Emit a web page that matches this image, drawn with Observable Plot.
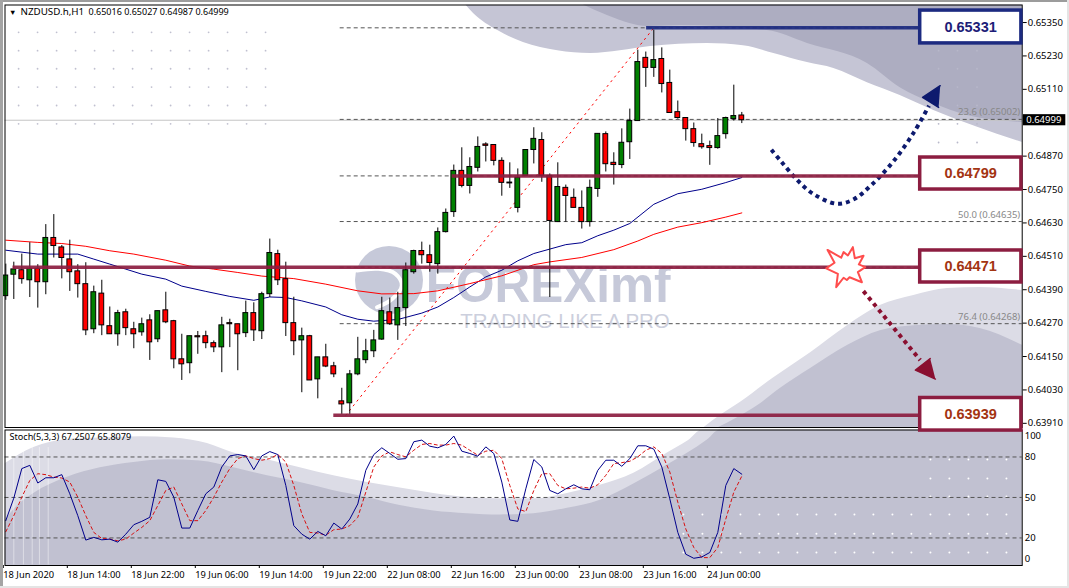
<!DOCTYPE html>
<html><head><meta charset="utf-8">
<script src="https://cdn.jsdelivr.net/npm/d3@7"></script>
<script src="https://cdn.jsdelivr.net/npm/@observablehq/plot@0.6"></script>
<style>
html,body{margin:0;padding:0;background:#fff;width:1069px;height:588px;overflow:hidden}
#top,#sub{position:absolute;left:0}
#top{top:0;z-index:2}
#sub{top:426px;z-index:1}
svg{background:transparent!important;overflow:visible}
.edge{position:absolute;z-index:3}
</style></head><body>
<div class="edge" style="left:0;top:0;width:1069px;height:2px;background:#9c9c9c"></div>
<div class="edge" style="left:0;top:0;width:3px;height:588px;background:#a4a4a4"></div>
<div class="edge" style="left:1067px;top:0;width:2px;height:588px;background:#e4e4e4"></div>
<div class="edge" style="left:0;top:586px;width:1069px;height:2px;background:#e4e4e4"></div>
<div id="top"></div><div id="sub"></div>
<script>
// all prices are in points (1e-5)
const candleOpen=[64367,64444,64460,64424,64465,64417,64576,64542,64499,64456,64410,64248,64376,64259,64230,64309,64248,64237,64280,64212,64316,64277,64140,64126,64223,64223,64198,64183,64270,64266,64234,64306,64241,64374,64518,64428,64270,64208,64223,64068,64147,64115,63989,63982,64086,64137,64169,64211,64309,64262,64324,64453,64529,64514,64482,64597,64669,64817,64763,64828,64912,64910,64853,64775,64684,64799,64892,64928,64799,64633,64756,64720,64684,64633,64752,64949,64846,64838,64920,64996,65223,65187,65219,65133,65028,65007,64967,64913,64906,64899,64949,65003,65016];
const candleHigh=[64482,64489,64518,64559,64480,64624,64660,64549,64568,64480,64487,64403,64424,64328,64316,64320,64273,64288,64300,64313,64381,64280,64230,64223,64240,64241,64206,64291,64284,64266,64349,64343,64381,64572,64532,64489,64363,64252,64226,64147,64194,64129,64036,64100,64219,64212,64244,64363,64360,64381,64486,64532,64561,64550,64612,64680,64838,64900,64864,64939,64918,64910,64864,64846,64824,64892,64972,64954,64806,64846,64766,64752,64745,64784,64950,64957,64882,64968,65039,65251,65244,65323,65259,65179,65068,65007,64989,64949,64924,65005,65010,65125,65027];
const candleLow=[64352,64355,64410,64362,64324,64372,64504,64429,64384,64360,64225,64232,64225,64230,64187,64225,64178,64223,64136,64200,64268,64106,64064,64088,64158,64178,64164,64092,64182,64099,64218,64204,64211,64362,64405,64222,64153,64020,64064,63998,64110,64074,63942,63942,64081,64124,64146,64208,64262,64208,64258,64446,64482,64453,64446,64594,64650,64756,64734,64813,64849,64835,64726,64754,64666,64799,64842,64776,64362,64633,64633,64684,64608,64615,64722,64813,64766,64825,64858,64996,65117,65153,65097,65025,65003,64924,64902,64895,64837,64895,64931,64996,64987];
const candleClose=[64441,64463,64428,64465,64417,64576,64547,64504,64453,64410,64244,64381,64262,64230,64306,64252,64230,64266,64201,64313,64273,64140,64122,64223,64219,64198,64183,64262,64266,64230,64306,64244,64374,64522,64424,64270,64205,64223,64064,64147,64114,64086,63978,64086,64140,64169,64208,64313,64266,64324,64460,64529,64514,64486,64597,64666,64817,64763,64831,64903,64907,64853,64774,64772,64792,64892,64932,64799,64637,64759,64727,64684,64633,64756,64950,64841,64838,64918,64996,65208,65187,65215,65129,65025,65007,64967,64917,64902,64899,64942,65007,65014,64999];

const blueMaIdx=[0,4,9,11,13,15,17,20,22,25,28,31,33,35,37,40,42,44,46,49,52,54,56,58,60,62,64,66,68,70,72,74,76,78,81,84,87,90,92];
const blueMa=[64532,64518,64518,64500,64482,64464,64446,64428,64403,64384,64366,64352,64364,64362,64350,64328,64300,64284,64277,64283,64306,64328,64362,64400,64436,64460,64494,64520,64536,64552,64559,64584,64604,64628,64697,64735,64751,64775,64793];
const redMaIdx=[0,4,7,10,13,16,20,23,26,29,32,36,40,44,47,51,54,58,62,66,68,72,76,79,81,84,87,90,92];
const redMa=[64568,64560,64556,64546,64530,64518,64496,64475,64464,64452,64439,64430,64410,64386,64375,64376,64386,64412,64440,64480,64490,64506,64534,64565,64589,64615,64631,64651,64666];

const stochMain=[32.8,49.5,71.4,73.8,60.7,64.6,64.6,66.9,52.7,36.5,18.4,20.4,18.6,19.1,16.9,22.8,29.8,32.3,35.3,63.1,61.9,50.2,27.3,27.3,40.3,52.7,57.7,72.6,80.8,81.8,80.8,70.6,80.8,84,81.8,58.9,29.1,22.8,19.1,24.8,21.6,31,26.6,34,45.2,70.1,81.8,86.8,82.6,78.3,78.8,91.3,92.5,88,86.8,89.3,95.5,84.3,82.6,80.6,87.5,82.6,61.4,33.3,32.3,56.4,78.1,72.6,55.2,52.7,56.4,59.4,56.4,55.7,70.1,77.6,77.6,73.1,78.8,88.3,88.3,85.8,72.6,49,24.1,7.9,4.9,5.9,9.2,24.1,58.9,71.4,67.25];
const stochSignal=[24.6,36.5,50.2,62.6,67.6,66.9,65.1,64.4,61.4,50.2,36.5,24.1,19.6,19.1,17.9,19.1,23.6,27.8,32.8,44,55.2,57.7,45.2,32.8,32.8,40.3,50.2,61.4,71.4,78.8,80.8,78.8,77.6,78.8,81.8,76.3,58.9,37.8,24.1,23.6,22.1,26.1,26.6,29.1,35.3,53.9,72.6,80.8,83.8,81.8,80.1,85,89.3,90,88.8,88.8,90,88.8,85,81.3,84.3,85,78.8,58.9,41.5,39.5,55.2,67.6,67.6,58.9,56.4,56.9,57.7,56.9,59.4,66.4,75.1,75.8,76.8,80.1,85,87.5,82.6,68.9,46.5,26.6,12.9,5.4,5.4,12.9,34,53.9,65.81];

const priceTicks=[65350,65230,65110,64870,64750,64630,64510,64390,64270,64150,64030,63910];
const timeTicks=[0,8,16,24,32,40,48,56,64,72,80,88];
const timeLabels=["18 Jun 2020","18 Jun 14:00","18 Jun 22:00","19 Jun 06:00","19 Jun 14:00","19 Jun 22:00","22 Jun 08:00","22 Jun 16:00","23 Jun 00:00","23 Jun 08:00","23 Jun 16:00","24 Jun 00:00"];

const fibLevels=[65331,65002,64799,64635,64471,64268];
const fibNames=["23.6 (0.65002)","50.0 (0.64635)","76.4 (0.64268)"];
const fibNamed=[65002,64635,64268];
const fibTrendIdx=[42.5,81], fibTrendPrice=[63939,65331];

const levelPrice=[65331,64799,64471,63939];
const levelFrom=[80.1,55.8,0.9,41];
const levelText=["0.65331","0.64799","0.64471","0.63939"];
const levelColor=["#1c2a80","#8c1d40","#8c1d40","#8c1d40"];
const levelInk=["#1d1d78","#a33412","#a33412","#a33412"];
const boxTop=[65393,64865,64531,64001], boxBottom=[65275,64750,64416,63884];
const boxFrom=114.3, boxTo=126.95;

// forecast arrows
const upPathIdx=[95.7,97,98.9,101,103.9,106,108.3,111,113.5,115.4];
const upPathPrice=[64893,64848,64785,64733,64699,64715,64769,64853,64955,65051];
const upHeadIdx=[116.8,114.6,116.6], upHeadPrice=[65123,65081,65045];
const downPathIdx=[107.2,114.3], downPathPrice=[64385,64137];
const downHeadIdx=[115.55,113.7,116.2], downHeadPrice=[64143,64101,64069];
const burstIdx=[102.72,104.43,104.72,105.26,105.88,106.13,107.22,106.63,107.43,106.51,107.01,105.47,105.13,104.72,103.8,104.01,102.55,103.59];
const burstPrice=[64533,64505,64525,64513,64543,64503,64512,64481,64471,64453,64417,64435,64425,64433,64399,64447,64467,64487];

// watermark shapes
const capLightIdx=[57.5,58.5,61.5,64.7,69,73.1,76.8,80.6,87.7,92.2,96,100.2,103.5,107.7,111.8,116,127.1];
const capLight=[65413,65382,65321,65278,65249,65239,65249,65264,65275,65267,65239,65206,65185,65134,65088,65034,64919];
const capDarkIdx=[72.2,75.2,78.1,80.2,84.3,95.2,100.2,107.7,111.8,116,120.2,127.1];
const capDark=[65413,65375,65346,65336,65339,65321,65275,65203,65116,65059,65016,64991];
const hillLightIdx=[87.3,89.3,91.8,96,100.6,105.2,109.3,113.5,117.7,121.8,127.1];
const hillLight=[63895,63938,63985,64074,64164,64261,64333,64369,64394,64398,64387];
const hillDarkIdx=[89.1,91.5,94,96.8,100.6,105.2,109.3,113.5,117.7,121.8,127.1];
const hillDark=[63895,63931,63974,64035,64107,64190,64243,64261,64265,64251,64190];
const subLightIdx=[-0.1,3.5,7.7,11.8,16.8,21,25.2,28.5,32.7,36.8,41,45.2,49.3,53.5,57.7,61.8,66,70.2,74.3,78.5,82.7,85.3,87.1,127.1];
const subLight=[75,87,93,94,95,94,90,83,78,72,66,61,57,53,50,49,49,53,59,68,83,92,100,100];
const subDarkIdx=[-0.1,1.5,3.5,7.7,11.8,16,20.2,24.3,28.5,32.7,36.8,41,45.2,49.3,53.5,57.7,61.8,66,70.2,74.3,78.5,82.7,87.7,89.3,127.1];
const subDark=[33,44,53,65,72,76,78,77,72,66,61,55,50,44,40,38,37,38,42,48,60,74,92.5,100,100];
const streakIdx=[1,2.2,3.3,4.2,5.3];

const gridLeftCols=[1.6,3.97,6.35,8.72,11.1,13.47,15.85,18.22,20.6,22.97,25.35,27.72,30.1,32.47];
const gridLeftRows=[65315,65249,65184,65118,65052,64986];
const gridRightCols=[116.6,118.96,121.4];
const gridRightRows=[65249,65184,65118,65052,64986,64919];
const gridSubCols=[84.7,87.08,89.45,91.83,94.2,96.58,98.95,101.33,103.7,106.08,108.45,110.83,113.2,115.58,117.95,120.33,122.7,125.08];
const gridSubRows=[37.3,23.1,9.2];
const gridSubTallCols=[115.58,117.95,120.33,122.7,125.08];
const gridSubTallRows=[78.1,64,50.7];

const swooshIdx=[43.9,46.6,48.7,49.5,48.3,46.4];
const swooshPrice=[64459,64465,64447,64405,64357,64327];

const tbl=(xs,ys)=>xs.map((x,k)=>({x,y:ys[k]}));
const grid=(cs,rs)=>d3.cross(cs,rs).map(([x,y])=>({x,y}));
const idx=d3.range(candleOpen.length);
const up=i=>candleClose[i]>=candleOpen[i];
const font="'Noto Sans',sans-serif";
const xDom=[-0.1,127.05];
const priceTop=65413, priceBottom=63895;
const lv=levelPrice.map((p,k)=>({p,from:levelFrom[k],text:levelText[k],c:levelColor[k],ink:levelInk[k],t:boxTop[k],b:boxBottom[k]}));

const topPlot=Plot.plot({
  width:1069,height:433,marginTop:4.5,marginBottom:6,marginLeft:4.5,marginRight:47.3,
  style:{fontFamily:font,fontSize:"9.5px",background:"transparent",overflow:"visible"},
  x:{domain:xDom,axis:null},
  y:{domain:[priceBottom,priceTop],axis:null},
  marks:[
    Plot.areaY(tbl(capLightIdx,capLight),{x:"x",y1:priceTop,y2:"y",fill:"#c5c5d5",curve:"monotone-x",clip:true}),
    Plot.areaY(tbl(capDarkIdx,capDark),{x:"x",y1:priceTop,y2:"y",fill:"#adadc1",curve:"monotone-x",clip:true}),
    Plot.areaY(tbl(hillLightIdx,hillLight),{x:"x",y1:priceBottom,y2:"y",fill:"#dcdce6",curve:"monotone-x",clip:true}),
    Plot.areaY(tbl(hillDarkIdx,hillDark),{x:"x",y1:priceBottom,y2:"y",fill:"#c1c1d1",curve:"monotone-x",clip:true}),
    Plot.dot(grid(gridLeftCols,gridLeftRows),{x:"x",y:"y",r:0.9,fill:"#c0c0d0"}),
    Plot.dot(grid(gridRightCols,gridRightRows),{x:"x",y:"y",r:0.9,fill:"#b8b8ca"}),
    // logo watermark
    Plot.dot([0],{x:()=>47.9,y:()=>64425,r:34,fill:"#c6c9d9"}),
    Plot.line(tbl(swooshIdx,swooshPrice),{x:"x",y:"y",stroke:"#fff",strokeWidth:4,curve:"catmull-rom"}),
    Plot.text(["FOREXimf"],{x:()=>52.5,y:()=>64345,textAnchor:"start",lineAnchor:"bottom",fontSize:49.5,fontWeight:"bold",fontFamily:"'Liberation Sans'",fill:"#c6c9d9"}),
    Plot.text(["TRADING LIKE A PRO"],{x:()=>56.8,y:()=>64254,textAnchor:"start",lineAnchor:"bottom",fontSize:20.5,fontFamily:"'Liberation Sans'",fill:"#cccfdd"}),
    // current price and fibonacci levels
    Plot.ruleY([64999],{stroke:"#c4c4c4"}),
    Plot.ruleY(fibLevels,{x1:41.8,x2:xDom[1],stroke:"#555",strokeDasharray:"4,3"}),
    Plot.text(fibNamed,{x:()=>126.8,y:d=>d,dy:-7,text:(d,i)=>fibNames[i],textAnchor:"end",fill:"#888",fontSize:9.5}),
    Plot.line(tbl(blueMaIdx,blueMa),{x:"x",y:"y",stroke:"#00008b",strokeWidth:1}),
    Plot.line(tbl(redMaIdx,redMa),{x:"x",y:"y",stroke:"#f00",strokeWidth:1}),
    Plot.line(tbl(fibTrendIdx,fibTrendPrice),{x:"x",y:"y",stroke:"#f00",strokeWidth:1,strokeDasharray:"1.5,4.5"}),
    // candles
    Plot.ruleX(idx,{x:i=>i,y1:i=>candleLow[i],y2:i=>candleHigh[i],stroke:"#000",strokeWidth:1}),
    Plot.rect(idx,{x1:i=>i-0.3,x2:i=>i+0.3,y1:i=>candleOpen[i],y2:i=>candleClose[i],fill:i=>up(i)?"#008000":"#f00",stroke:"#000",strokeWidth:1}),
    // arrows
    Plot.line(tbl(upPathIdx,upPathPrice),{x:"x",y:"y",stroke:"#0d1a6e",strokeWidth:4,strokeDasharray:"4,4",strokeLinecap:"butt",curve:"catmull-rom"}),
    Plot.line(tbl(upHeadIdx,upHeadPrice),{x:"x",y:"y",fill:"#0d1a6e",stroke:"#0d1a6e"}),
    // level lines and boxes
    Plot.ruleY(lv,{y:"p",x1:"from",x2:boxFrom,stroke:"c",strokeWidth:3.5,strokeOpacity:0.92}),
    Plot.line(tbl(burstIdx.concat(burstIdx[0]),burstPrice.concat(burstPrice[0])),{x:"x",y:"y",fill:"#fff",stroke:"#ff4d4d",strokeWidth:2}),
    Plot.line(tbl(downPathIdx,downPathPrice),{x:"x",y:"y",stroke:"#8a0f30",strokeWidth:4,strokeDasharray:"4,4",strokeLinecap:"butt"}),
    Plot.line(tbl(downHeadIdx,downHeadPrice),{x:"x",y:"y",fill:"#8a0f30",stroke:"#8a0f30"}),
    // axis and frame
    Plot.frame({stroke:"#000"}),
    Plot.axisY({anchor:"right",ticks:priceTicks,tickSize:4,tickPadding:1.5,label:null,fontSize:9.5,tickFormat:p=>(p/1e5).toFixed(5)}),
    Plot.rect([64999],{x1:()=>127.2,x2:()=>132.5,y1:()=>64999-20,y2:()=>64999+20,fill:"#000"}),
    Plot.text([64999],{x:()=>127.55,y:d=>d,text:d=>(d/1e5).toFixed(5),textAnchor:"start",fill:"#fff",fontSize:9.5}),
    Plot.rect(lv,{x1:boxFrom,x2:boxTo,y1:"b",y2:"t",fill:"#fff",stroke:"c",strokeWidth:3.5}),
    Plot.text(lv,{x:()=>120.6,y:d=>(d.t+d.b)/2,text:"text",fill:"ink",fontSize:14.5,fontWeight:"bold",fontFamily:"'Liberation Sans'"}),
    // titles
    Plot.text(["▼"],{frameAnchor:"top-left",dx:4,dy:5,textAnchor:"start",fontSize:7.5,fill:"#000"}),
    Plot.text(["NZDUSD.h,H1"],{frameAnchor:"top-left",dx:15.5,dy:3.5,textAnchor:"start",fontSize:9.8,fill:"#000"}),
    Plot.text(["0.65016 0.65027 0.64987 0.64999"],{frameAnchor:"top-left",dx:83.5,dy:3.5,textAnchor:"start",fontSize:9,fill:"#000"})
  ]
});
document.getElementById("top").append(topPlot);

const subPlot=Plot.plot({
  width:1069,height:162,marginTop:3.5,marginBottom:23,marginLeft:4.5,marginRight:47.3,
  style:{fontFamily:font,fontSize:"9.5px",background:"transparent",overflow:"visible"},
  x:{domain:xDom,axis:null},
  y:{domain:[-0.44,100],axis:null},
  marks:[
    Plot.areaY(tbl(subLightIdx,subLight),{x:"x",y1:-0.44,y2:"y",fill:"#dcdce6",curve:"monotone-x",clip:true}),
    Plot.areaY(tbl(subDarkIdx,subDark),{x:"x",y1:-0.44,y2:"y",fill:"#c1c1d1",curve:"monotone-x",clip:true}),
    Plot.ruleX(streakIdx,{y1:0,y2:87,stroke:"#fff",strokeOpacity:0.45}),
    Plot.dot(grid(gridSubCols,gridSubRows),{x:"x",y:"y",r:1,fill:"#fff"}),
    Plot.dot(grid(gridSubTallCols,gridSubTallRows),{x:"x",y:"y",r:1,fill:"#fff"}),
    Plot.ruleY([80,50,20],{stroke:"#555",strokeDasharray:"4,3"}),
    Plot.line(idx,{x:i=>i,y:i=>stochSignal[i],stroke:"#d81010",strokeWidth:1,strokeDasharray:"3,3"}),
    Plot.line(idx,{x:i=>i,y:i=>stochMain[i],stroke:"#00008b",strokeWidth:1}),
    Plot.frame({stroke:"#000"}),
    Plot.axisY({anchor:"right",ticks:[80,50,20],tickSize:0,tickPadding:2.5,label:null,fontSize:9.5}),
    Plot.text([100],{x:()=>xDom[1],y:d=>d,dx:2.5,dy:5.5,textAnchor:"start",fontSize:9.5}),
    Plot.text([0],{x:()=>xDom[1],y:d=>d,dx:2.5,dy:-6,textAnchor:"start",fontSize:9.5}),
    Plot.axisX({anchor:"bottom",ticks:timeTicks,tickSize:3,tickPadding:2.5,label:null,fontSize:9.3,textAnchor:"start",dx:-2.5,tickFormat:i=>timeLabels[timeTicks.indexOf(i)]}),
    Plot.text(["Stoch(5,3,3) 67.2507 65.8079"],{frameAnchor:"top-left",dx:4.5,dy:3.5,textAnchor:"start",fontSize:9.1,fill:"#000"})
  ]
});
document.getElementById("sub").append(subPlot);
</script>
</body></html>
